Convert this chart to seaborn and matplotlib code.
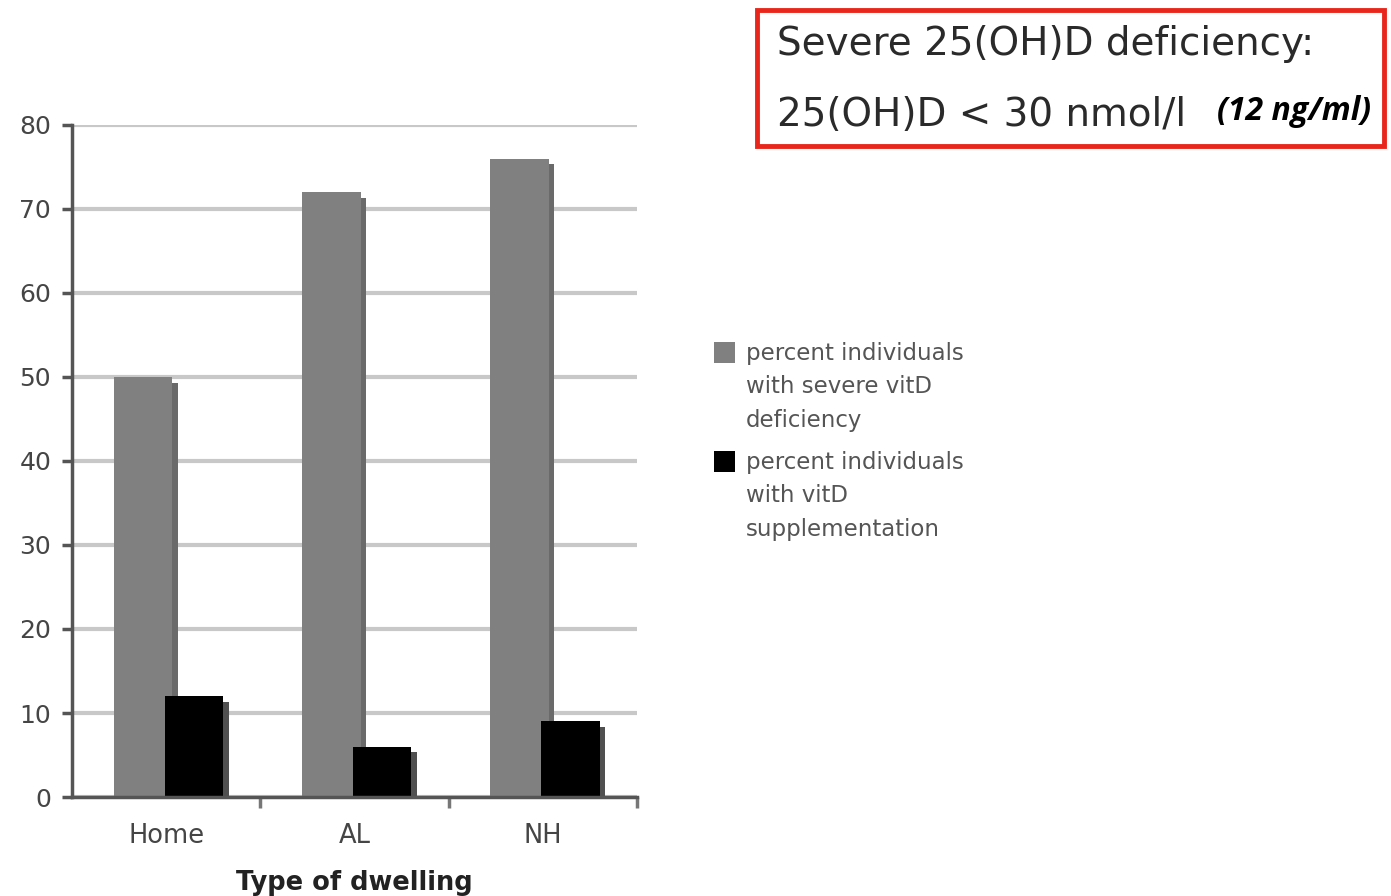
import matplotlib
matplotlib.use("Agg")
import matplotlib.pyplot as plt
import matplotlib.patheffects as pe
from matplotlib.patches import Rectangle
import seaborn as sns
import pandas as pd

# Data
dwellings = ["Home", "AL", "NH"]
severe_deficiency = [50, 72, 76]
supplementation = [12, 6, 9]
series_labels = [
    "percent individuals\nwith severe vitD\ndeficiency",
    "percent individuals\nwith vitD\nsupplementation",
]
y_ticks = [0, 10, 20, 30, 40, 50, 60, 70, 80]

df = pd.DataFrame({
    "dwelling": dwellings * 2,
    "percent": severe_deficiency + supplementation,
    "series": [series_labels[0]] * 3 + [series_labels[1]] * 3,
})

sns.set_theme(style="white")
plt.rcParams["font.family"] = ["DejaVu Sans"]

W, H = 1391, 896
fig = plt.figure(figsize=(W / 100, H / 100), dpi=100)
ax = fig.add_axes([72 / W, 1 - 797 / H, (637 - 72) / W, (797 - 125) / H])

palette = {series_labels[0]: "#808080", series_labels[1]: "#000000"}
sns.barplot(data=df, x="dwelling", y="percent", hue="series", order=dwellings,
            hue_order=series_labels, palette=palette, width=0.54, saturation=1,
            linewidth=0, ax=ax, legend=False, zorder=3)

# slightly wider bars that overlap within a group, with a soft drop shadow
bar_w = 0.31
for bar in ax.patches:
    cx = bar.get_x() + bar.get_width() / 2 + 0.012
    bar.set_x(cx - bar_w / 2)
    bar.set_width(bar_w)
    shade = "#6a6a6a" if bar.get_facecolor()[0] > 0.3 else "#505050"
    bar.set_path_effects([pe.SimplePatchShadow(offset=(4, -4), shadow_rgbFace=shade, alpha=1.0),
                          pe.Normal()])

ax.set_xlim(-0.5, 2.5)
ax.set_ylim(0, 80)
ax.set_yticks(y_ticks)
ax.yaxis.grid(True, color="#c8c8c8", linewidth=3, zorder=0)
ax.set_axisbelow(True)

for side in ["top", "right"]:
    ax.spines[side].set_visible(False)
for side in ["left", "bottom"]:
    ax.spines[side].set_color("#555555")
    ax.spines[side].set_linewidth(2.5)
    ax.spines[side].set_zorder(4)

ax.tick_params(axis="y", which="major", direction="out", length=7, width=2.5,
               color="#555555", labelsize=18, labelcolor="#454545", pad=8, left=True)
ax.tick_params(axis="x", which="major", length=0, labelsize=18.5, labelcolor="#454545", pad=19)
ax.set_xticks([0.5, 1.5, 2.5], minor=True)
ax.tick_params(axis="x", which="minor", direction="out", length=8, width=2.5,
               color="#777777", bottom=True)

ax.set_ylabel("")
ax.set_xlabel("Type of dwelling", fontsize=18.5, fontweight="bold", color="#222222", labelpad=15)

# legend: square swatch beside each three-line label
legend_tops = [353, 462]
for label, mid in zip(series_labels, legend_tops):
    fig.patches.append(Rectangle((714 / W, 1 - (mid + 10) / H), 21 / W, 21 / H,
                                 transform=fig.transFigure, facecolor=palette[label],
                                 edgecolor="none"))
    fig.text(746 / W, 1 - (mid - 11) / H, label, fontsize=16.5, color="#555555",
             va="top", ha="left", linespacing=1.58)

# definition box
fig.patches.append(Rectangle((757 / W, 1 - 146 / H), (1384 - 757) / W, (146 - 10) / H,
                             transform=fig.transFigure, facecolor="white",
                             edgecolor="#e8261b", linewidth=3.5))
fig.text(777 / W, 1 - 44 / H, "Severe 25(OH)D deficiency:", fontsize=28,
         color="#2a2a2a", va="center", ha="left")
fig.text(777 / W, 1 - 115 / H, "25(OH)D < 30 nmol/l", fontsize=28,
         color="#2a2a2a", va="center", ha="left")
fig.text(1217 / W, 1 - 112 / H, "(12 ng/ml)", fontsize=23, fontweight="bold",
         fontstyle="italic", family=["Open Sans", "DejaVu Sans"], color="black",
         va="center", ha="left")

fig.savefig("out.png", dpi=100)
